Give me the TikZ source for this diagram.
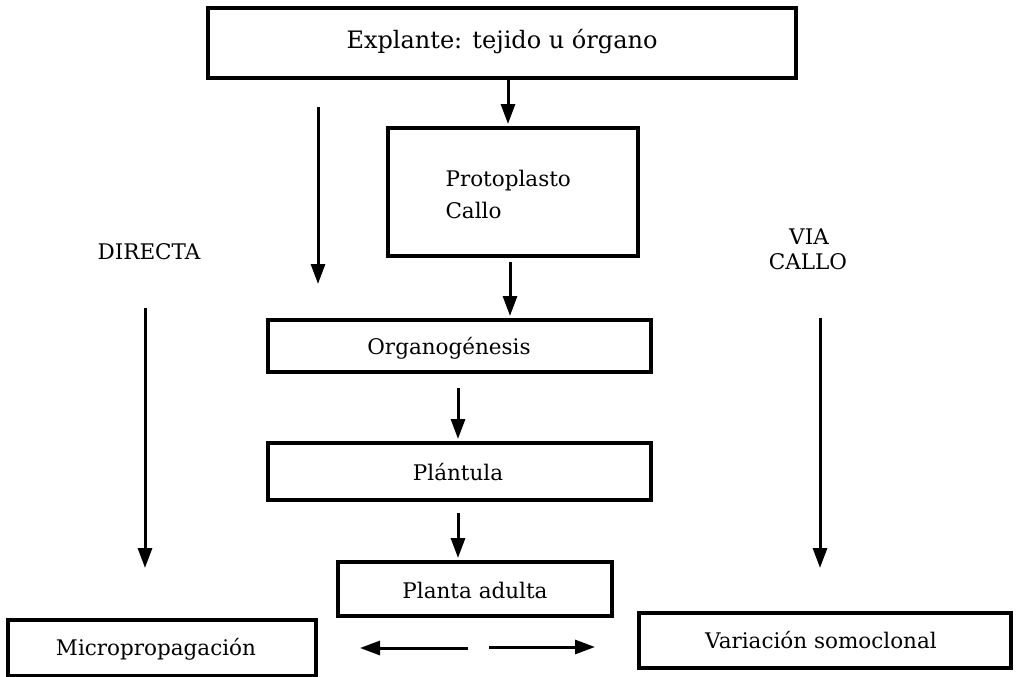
\documentclass[tikz,border=0pt]{standalone}
\usepackage{fontspec}
\setmainfont{DejaVu Serif}
\usetikzlibrary{arrows.meta}
\begin{document}
\begin{tikzpicture}[x=1pt,y=-1pt,
  box/.style={draw,line width=3.2pt,inner sep=0pt},
  flow/.style={line width=3pt,-{Triangle[length=20pt,width=14pt]}},
  lbl/.style={font=\fontsize{21.5}{25}\selectfont},
]
\useasboundingbox (0,0) rectangle (1018,677);

% boxes and their labels
\draw[box] (208,8) rectangle (796,78);
\node[lbl,font=\fontsize{24}{28}\selectfont] (explante) at (502,42) {Explante: tejido u órgano};

\draw[box] (388,128) rectangle (638,256);
\node[lbl,anchor=west] (proto) at (442,181) {Protoplasto};
\node[lbl,anchor=west] (callo) at (442,210) {Callo};

\draw[box] (268,320) rectangle (651,372);
\node[lbl] (organo) at (449,348) {Organogénesis};

\draw[box] (268,443) rectangle (651,500);
\node[lbl] (plantula) at (458,472) {Plántula};

\draw[box] (338,562) rectangle (612,616);
\node[lbl] (adulta) at (475,590) {Planta adulta};

\draw[box] (8,620) rectangle (316,676);
\node[lbl] (micro) at (156,649) {Micropropagación};

\draw[box] (639,613) rectangle (1011,668);
\node[lbl] (somo) at (821,640) {Variación somoclonal};

% side labels
\node[lbl] (directa) at (149,252) {DIRECTA};
\node[lbl] (via) at (809,237) {VIA};
\node[lbl] (callo2) at (808,262) {CALLO};

% arrow end points
\coordinate (a1s) at (508,80);   \coordinate (a1e) at (508,124);
\coordinate (a2s) at (510,262);  \coordinate (a2e) at (510,316);
\coordinate (a3s) at (318,107);  \coordinate (a3e) at (318,284);
\coordinate (a4s) at (458,388);  \coordinate (a4e) at (458,439);
\coordinate (a5s) at (458,513);  \coordinate (a5e) at (458,558);
\coordinate (a6s) at (145,308);  \coordinate (a6e) at (145,568);
\coordinate (a7s) at (820,318);  \coordinate (a7e) at (820,568);
\coordinate (a8s) at (468,648);  \coordinate (a8e) at (360,648);
\coordinate (a9s) at (489,647);  \coordinate (a9e) at (595,647);

\foreach \i in {1,...,9} \draw[flow] (a\i s) -- (a\i e);
\end{tikzpicture}
\end{document}
